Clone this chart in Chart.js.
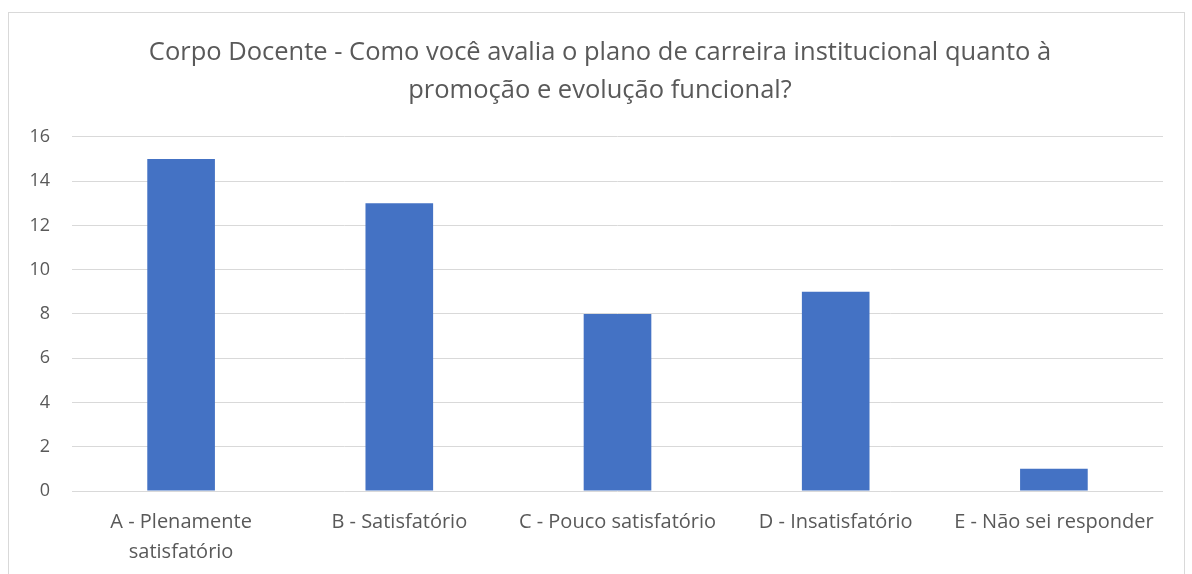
<!DOCTYPE html>
<html><head><meta charset="utf-8">
<script src="https://cdn.jsdelivr.net/npm/chart.js@4"></script>
<style>
html,body{margin:0;padding:0;background:#fff;}
#wrap{position:relative;width:1192px;height:574px;overflow:hidden;}
#frame{position:absolute;left:8px;top:12px;width:1177px;height:600px;border:1px solid #d9d9d9;box-sizing:border-box;}
canvas{position:absolute;left:0;top:0;}
</style></head>
<body>
<div id="wrap"><div id="frame"></div><canvas id="c" width="1192" height="574"></canvas></div>
<script>
const titleLines = ['Corpo Docente - Como você avalia o plano de carreira institucional quanto à', 'promoção e evolução funcional?'];
const categories = [['A - Plenamente','satisfatório'], 'B - Satisfatório', 'C - Pouco satisfatório', 'D - Insatisfatório', 'E - Não sei responder'];
const values = [15, 13, 8, 9, 1];
const yTicks = [0, 2, 4, 6, 8, 10, 12, 14, 16];

const FONT = '"Open Sans", sans-serif';
const titleCenter = {
  id: 'titleCenter',
  afterLayout(chart) {
    if (chart.titleBlock) { chart.titleBlock.left = 37; chart.titleBlock.right = 1163; }
  }
};
new Chart(document.getElementById('c'), {
  type: 'bar',
  data: { labels: categories, datasets: [{ data: values, backgroundColor: '#4472c4', barPercentage: 0.31, categoryPercentage: 1 }] },
  plugins: [titleCenter],
  options: {
    responsive: false, animation: false,
    layout: { padding: { left: 0, right: 29, top: 0, bottom: 0 } },
    plugins: {
      legend: { display: false }, tooltip: { enabled: false },
      title: { display: true, text: titleLines, color: '#595959', font: { family: FONT, size: 25.5, weight: 'normal', lineHeight: 1.49 }, padding: { top: 34, bottom: 27 } }
    },
    scales: {
      y: {
        min: 0, max: 16,
        afterBuildTicks: s => { s.ticks = yTicks.map(v => ({ value: v })); },
        afterFit: s => { s.width = 72; },
        ticks: { color: '#595959', font: { family: FONT, size: 18 }, padding: 22 },
        grid: { color: '#d9d9d9', lineWidth: 1, drawTicks: false },
        border: { display: false }
      },
      x: {
        afterFit: s => { s.height = 83; },
        ticks: { color: '#595959', font: { family: FONT, size: 20, lineHeight: 1.5 }, padding: 16, maxRotation: 0, autoSkip: false },
        grid: { display: false, drawTicks: false },
        border: { display: false }
      }
    }
  }
});
</script>
</body></html>
